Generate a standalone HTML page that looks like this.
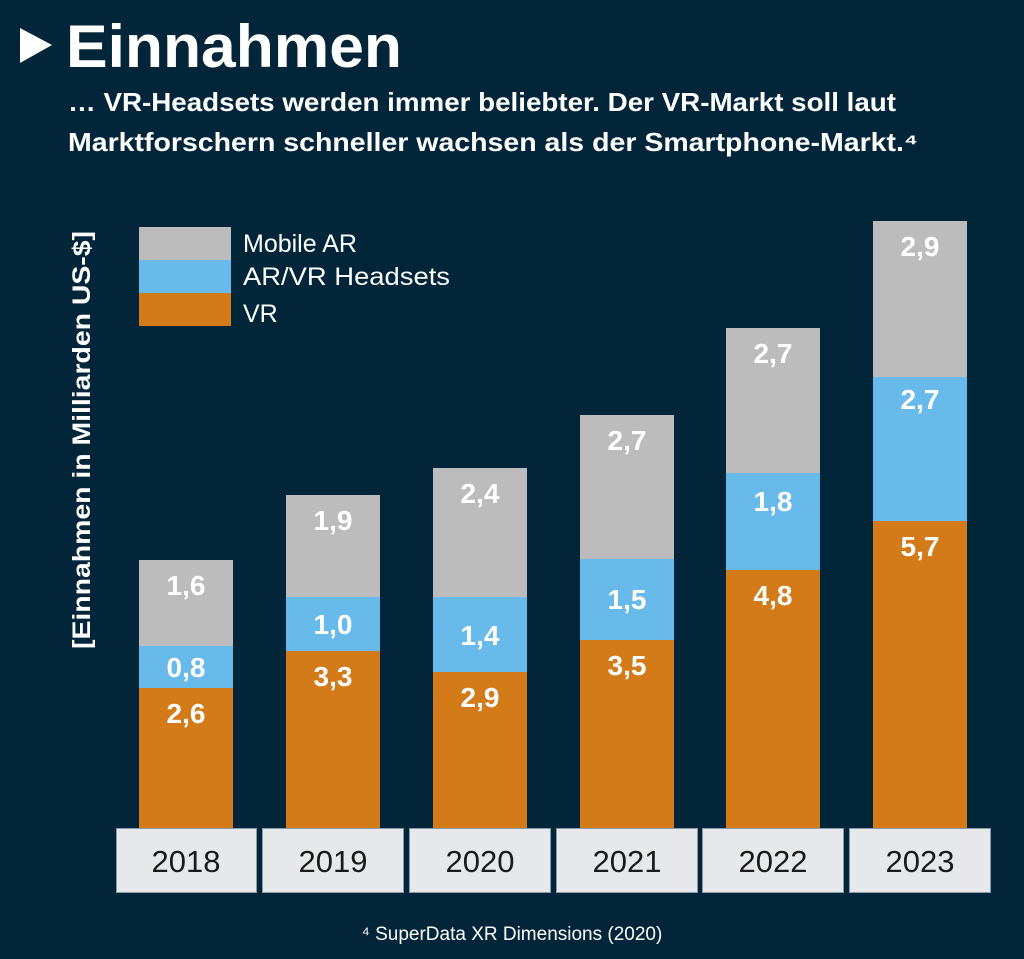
<!DOCTYPE html><html><head><meta charset="utf-8"><style>
html,body{margin:0;padding:0;background:#022539;}
svg{display:block}
text{font-family:"Liberation Sans","DejaVu Sans",sans-serif;}
</style></head><body>
<svg width="1024" height="959" viewBox="0 0 1024 959" xmlns="http://www.w3.org/2000/svg">
<rect width="1024" height="959" fill="#022539"/>
<polygon points="20,28 52,45 20,63" fill="#fff"/>
<text x="66" y="67" font-size="60" font-weight="bold" fill="#fff" textLength="336" lengthAdjust="spacingAndGlyphs">Einnahmen</text>
<text x="68" y="111" font-size="26" font-weight="bold" fill="#fff" textLength="828" lengthAdjust="spacingAndGlyphs">… VR-Headsets werden immer beliebter. Der VR-Markt soll laut</text>
<text x="68" y="151" font-size="26" font-weight="bold" fill="#fff" textLength="850" lengthAdjust="spacingAndGlyphs">Marktforschern schneller wachsen als der Smartphone-Markt.⁴</text>
<text transform="translate(90,440) rotate(-90)" font-size="25" font-weight="bold" fill="#fff" text-anchor="middle" textLength="418" lengthAdjust="spacingAndGlyphs">[Einnahmen in Milliarden US-$]</text>
<rect x="139" y="227" width="92" height="33" fill="#bcbcbc"/>
<rect x="139" y="260" width="92" height="33" fill="#68baea"/>
<rect x="139" y="293" width="92" height="33" fill="#d27b18"/>
<text x="243" y="252" font-size="25" fill="#fff">Mobile AR</text>
<text x="243" y="285" font-size="25" fill="#fff" textLength="207" lengthAdjust="spacingAndGlyphs">AR/VR Headsets</text>
<text x="243" y="322" font-size="25" fill="#fff">VR</text>
<g font-size="28" font-weight="bold" fill="#fff" text-anchor="middle">
<rect x="139" y="560" width="94" height="86" fill="#bcbcbc"/><rect x="139" y="646" width="94" height="42" fill="#68baea"/><rect x="139" y="688" width="94" height="141" fill="#d27b18"/>
<text x="186" y="595">1,6</text><text x="186" y="677">0,8</text><text x="186" y="723">2,6</text>
<rect x="286" y="495" width="94" height="102" fill="#bcbcbc"/><rect x="286" y="597" width="94" height="54" fill="#68baea"/><rect x="286" y="651" width="94" height="178" fill="#d27b18"/>
<text x="333" y="530">1,9</text><text x="333" y="634">1,0</text><text x="333" y="686">3,3</text>
<rect x="433" y="468" width="94" height="129" fill="#bcbcbc"/><rect x="433" y="597" width="94" height="75" fill="#68baea"/><rect x="433" y="672" width="94" height="157" fill="#d27b18"/>
<text x="480" y="503">2,4</text><text x="480" y="645">1,4</text><text x="480" y="707">2,9</text>
<rect x="580" y="415" width="94" height="144" fill="#bcbcbc"/><rect x="580" y="559" width="94" height="81" fill="#68baea"/><rect x="580" y="640" width="94" height="189" fill="#d27b18"/>
<text x="627" y="450">2,7</text><text x="627" y="609">1,5</text><text x="627" y="675">3,5</text>
<rect x="726" y="328" width="94" height="145" fill="#bcbcbc"/><rect x="726" y="473" width="94" height="97" fill="#68baea"/><rect x="726" y="570" width="94" height="259" fill="#d27b18"/>
<text x="773" y="363">2,7</text><text x="773" y="511">1,8</text><text x="773" y="605">4,8</text>
<rect x="873" y="221" width="94" height="156" fill="#bcbcbc"/><rect x="873" y="377" width="94" height="144" fill="#68baea"/><rect x="873" y="521" width="94" height="308" fill="#d27b18"/>
<text x="920" y="256">2,9</text><text x="920" y="409">2,7</text><text x="920" y="556">5,7</text>
</g>
<g fill="#e6e8eb" stroke="#8a9aa6" stroke-width="1">
<rect x="116.5" y="828.5" width="140" height="64"/><rect x="262.5" y="828.5" width="141" height="64"/><rect x="409.5" y="828.5" width="141" height="64"/><rect x="556.5" y="828.5" width="141" height="64"/><rect x="702.5" y="828.5" width="141" height="64"/><rect x="849.5" y="828.5" width="141" height="64"/>
</g>
<g font-size="31" fill="#1a1a1a" text-anchor="middle">
<text x="186" y="872">2018</text><text x="333" y="872">2019</text><text x="480" y="872">2020</text><text x="627" y="872">2021</text><text x="773" y="872">2022</text><text x="920" y="872">2023</text>
</g>
<text x="512" y="940" font-size="19" fill="#fff" text-anchor="middle">⁴ SuperData XR Dimensions (2020)</text>
</svg>
</body></html>
